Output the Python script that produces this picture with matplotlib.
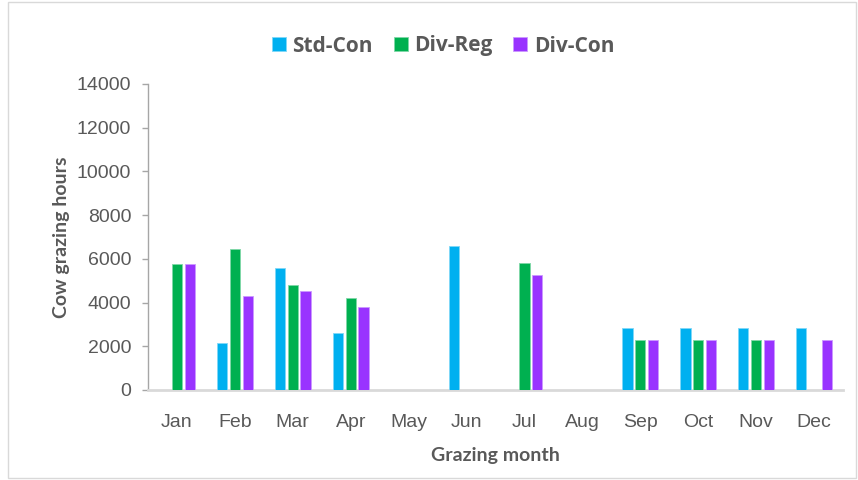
import matplotlib
matplotlib.use("Agg")
import matplotlib.pyplot as plt
import numpy as np
from matplotlib.patches import Rectangle

months = ["Jan", "Feb", "Mar", "Apr", "May", "Jun", "Jul", "Aug", "Sep", "Oct", "Nov", "Dec"]
std_con = [0, 2150, 5600, 2600, 0, 6600, 0, 0, 2850, 2850, 2850, 2850]
div_reg = [5750, 6450, 4800, 4200, 0, 0, 5800, 0, 2300, 2300, 2300, 0]
div_con = [5750, 4300, 4550, 3800, 0, 0, 5250, 0, 2300, 2300, 2300, 2300]
series_names = ["Std-Con", "Div-Reg", "Div-Con"]
colors = ["#00B0F0", "#00B050", "#9933FF"]
edge_colors = ["#7fd7f7", "#7fd7a7", "#cc99ff"]

fig = plt.figure(figsize=(8.58, 4.8), dpi=100)
ax = fig.add_axes([148/858, 90/480, (843-148)/858, (390-84)/480])

x = np.arange(len(months))
w = 0.178
pitch = 0.222
for i, (vals, c, ec) in enumerate(zip([std_con, div_reg, div_con], colors, edge_colors)):
    ax.bar(x + (i - 1) * pitch, vals, width=w, color=c, edgecolor=ec, linewidth=0.6,
           label=series_names[i], zorder=3)

ax.set_xlim(-0.5, len(months) - 0.5)
ax.set_ylim(0, 14000)
ax.set_yticks(np.arange(0, 14001, 2000))
ax.set_xticks(x)
ax.set_xticklabels(months)

for s in ["top", "right"]:
    ax.spines[s].set_visible(False)
ax.spines["bottom"].set_color("#d9d9d9")
ax.spines["bottom"].set_linewidth(2)
ax.spines["left"].set_color("#a6a6a6")
ax.spines["left"].set_linewidth(1)
ax.tick_params(axis="y", colors="#a6a6a6", labelcolor="#595959", labelsize=14,
               length=4, width=1, pad=8)
ax.tick_params(axis="x", length=0, labelcolor="#595959", labelsize=14, pad=17)
for lab in ax.get_xticklabels() + ax.get_yticklabels():
    lab.set_family("Liberation Sans")

ax.set_xlabel("Grazing month", fontsize=14, fontweight="bold", color="#595959",
              family="Lato", labelpad=12)
ax.set_ylabel("Cow grazing hours", fontsize=14, fontweight="bold", color="#595959",
              family="Lato", labelpad=5)

leg = fig.legend(loc="center", bbox_to_anchor=(443/858, 1 - 46/480), ncol=3, frameon=False,
                 prop={"family": "Open Sans", "weight": "bold", "size": 15},
                 handlelength=0.68, handleheight=0.68, handletextpad=0.3, columnspacing=1.0)
for t in leg.get_texts():
    t.set_color("#595959")

fig.patches.append(Rectangle((8/858, 2/480), 848/858, 476/480, transform=fig.transFigure,
                             fill=False, edgecolor="#d9d9d9", linewidth=1))

fig.savefig("out.png", dpi=100)
